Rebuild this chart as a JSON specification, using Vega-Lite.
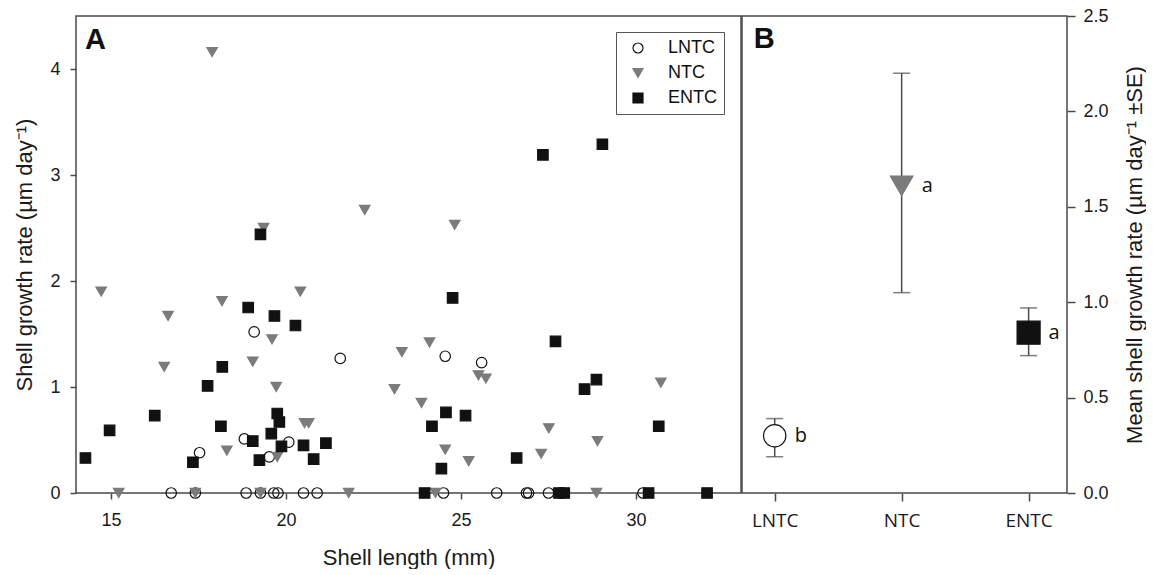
{
  "$schema": "https://vega.github.io/schema/vega-lite/v6.json",
  "background": "white",
  "padding": {"left": 13, "top": 6, "right": 0, "bottom": 0},
  "spacing": -1,
  "config": {
    "view": {"stroke": "#4a4a4a", "strokeWidth": 1.5},
    "axis": {"grid": false, "domain": false, "tickColor": "#4a4a4a", "tickWidth": 1.5, "labelFont": "Liberation Sans", "labelFontSize": 18, "labelColor": "#1a1a1a", "titleFont": "Liberation Sans", "titleFontSize": 22, "titleFontWeight": "normal", "titleColor": "#1a1a1a"},
    "legend": {"padding": 7, "strokeColor": "#555555", "fillColor": "white", "symbolOffset": 6, "labelOffset": 21, "rowPadding": 7, "labelFont": "Liberation Sans", "labelFontSize": 18, "labelColor": "#111111", "symbolSize": 100, "symbolStrokeWidth": 1.2}
  },
  "resolve": {"scale": {"shape": "independent", "fill": "independent", "stroke": "independent", "size": "independent"}, "legend": {"shape": "independent", "fill": "independent", "stroke": "independent", "size": "independent"}},
  "hconcat": [
    {
      "width": 665,
      "height": 477,
      "layer": [
        {
          "data": {"values": [
            {"group": "LNTC", "length": 17.53, "rate": 0.38},
            {"group": "LNTC", "length": 19.09, "rate": 1.52},
            {"group": "LNTC", "length": 18.81, "rate": 0.51},
            {"group": "LNTC", "length": 19.52, "rate": 0.34},
            {"group": "LNTC", "length": 20.08, "rate": 0.48},
            {"group": "LNTC", "length": 21.55, "rate": 1.27},
            {"group": "LNTC", "length": 24.55, "rate": 1.29},
            {"group": "LNTC", "length": 25.59, "rate": 1.23},
            {"group": "LNTC", "length": 16.72, "rate": 0},
            {"group": "LNTC", "length": 17.41, "rate": 0},
            {"group": "LNTC", "length": 18.86, "rate": 0},
            {"group": "LNTC", "length": 19.27, "rate": 0},
            {"group": "LNTC", "length": 19.65, "rate": 0},
            {"group": "LNTC", "length": 19.77, "rate": 0},
            {"group": "LNTC", "length": 20.5, "rate": 0},
            {"group": "LNTC", "length": 20.89, "rate": 0},
            {"group": "LNTC", "length": 24.5, "rate": 0},
            {"group": "LNTC", "length": 26.02, "rate": 0},
            {"group": "LNTC", "length": 26.87, "rate": 0},
            {"group": "LNTC", "length": 26.93, "rate": 0},
            {"group": "LNTC", "length": 27.5, "rate": 0},
            {"group": "LNTC", "length": 30.2, "rate": 0},
            {"group": "NTC", "length": 14.72, "rate": 1.9},
            {"group": "NTC", "length": 16.63, "rate": 1.67},
            {"group": "NTC", "length": 18.17, "rate": 1.81},
            {"group": "NTC", "length": 16.52, "rate": 1.19},
            {"group": "NTC", "length": 19.6, "rate": 1.45},
            {"group": "NTC", "length": 19.05, "rate": 1.24},
            {"group": "NTC", "length": 19.72, "rate": 1.0},
            {"group": "NTC", "length": 20.41, "rate": 1.9},
            {"group": "NTC", "length": 20.53, "rate": 0.66},
            {"group": "NTC", "length": 20.65, "rate": 0.66},
            {"group": "NTC", "length": 18.31, "rate": 0.4},
            {"group": "NTC", "length": 19.75, "rate": 0.34},
            {"group": "NTC", "length": 17.89, "rate": 4.16},
            {"group": "NTC", "length": 19.36, "rate": 2.5},
            {"group": "NTC", "length": 23.31, "rate": 1.33},
            {"group": "NTC", "length": 24.1, "rate": 1.42},
            {"group": "NTC", "length": 23.1, "rate": 0.98},
            {"group": "NTC", "length": 23.87, "rate": 0.85},
            {"group": "NTC", "length": 25.5, "rate": 1.11},
            {"group": "NTC", "length": 25.71, "rate": 1.08},
            {"group": "NTC", "length": 24.55, "rate": 0.41},
            {"group": "NTC", "length": 25.22, "rate": 0.3},
            {"group": "NTC", "length": 27.51, "rate": 0.61},
            {"group": "NTC", "length": 27.29, "rate": 0.37},
            {"group": "NTC", "length": 28.9, "rate": 0.49},
            {"group": "NTC", "length": 30.71, "rate": 1.04},
            {"group": "NTC", "length": 22.25, "rate": 2.67},
            {"group": "NTC", "length": 24.82, "rate": 2.53},
            {"group": "NTC", "length": 15.22, "rate": 0},
            {"group": "NTC", "length": 17.41, "rate": 0},
            {"group": "NTC", "length": 19.27, "rate": 0},
            {"group": "NTC", "length": 21.79, "rate": 0},
            {"group": "NTC", "length": 24.27, "rate": 0},
            {"group": "NTC", "length": 28.87, "rate": 0},
            {"group": "ENTC", "length": 14.27, "rate": 0.33},
            {"group": "ENTC", "length": 14.96, "rate": 0.59},
            {"group": "ENTC", "length": 16.25, "rate": 0.73},
            {"group": "ENTC", "length": 17.34, "rate": 0.29},
            {"group": "ENTC", "length": 17.76, "rate": 1.01},
            {"group": "ENTC", "length": 18.18, "rate": 1.19},
            {"group": "ENTC", "length": 18.14, "rate": 0.63},
            {"group": "ENTC", "length": 18.92, "rate": 1.75},
            {"group": "ENTC", "length": 19.67, "rate": 1.67},
            {"group": "ENTC", "length": 20.27, "rate": 1.58},
            {"group": "ENTC", "length": 19.05, "rate": 0.49},
            {"group": "ENTC", "length": 19.24, "rate": 0.31},
            {"group": "ENTC", "length": 19.58, "rate": 0.56},
            {"group": "ENTC", "length": 19.75, "rate": 0.75},
            {"group": "ENTC", "length": 19.81, "rate": 0.67},
            {"group": "ENTC", "length": 19.87, "rate": 0.44},
            {"group": "ENTC", "length": 20.5, "rate": 0.45},
            {"group": "ENTC", "length": 20.79, "rate": 0.32},
            {"group": "ENTC", "length": 21.14, "rate": 0.47},
            {"group": "ENTC", "length": 19.27, "rate": 2.44},
            {"group": "ENTC", "length": 24.76, "rate": 1.84},
            {"group": "ENTC", "length": 27.7, "rate": 1.43},
            {"group": "ENTC", "length": 28.53, "rate": 0.98},
            {"group": "ENTC", "length": 28.87, "rate": 1.07},
            {"group": "ENTC", "length": 24.57, "rate": 0.76},
            {"group": "ENTC", "length": 25.13, "rate": 0.73},
            {"group": "ENTC", "length": 24.17, "rate": 0.63},
            {"group": "ENTC", "length": 24.44, "rate": 0.23},
            {"group": "ENTC", "length": 26.59, "rate": 0.33},
            {"group": "ENTC", "length": 30.65, "rate": 0.63},
            {"group": "ENTC", "length": 27.34, "rate": 3.19},
            {"group": "ENTC", "length": 29.04, "rate": 3.29},
            {"group": "ENTC", "length": 23.96, "rate": 0},
            {"group": "ENTC", "length": 27.8, "rate": 0},
            {"group": "ENTC", "length": 27.95, "rate": 0},
            {"group": "ENTC", "length": 30.36, "rate": 0},
            {"group": "ENTC", "length": 32.03, "rate": 0}
          ]},
          "mark": {"type": "point", "filled": true, "opacity": 1, "size": 110, "strokeWidth": 1.2},
          "encoding": {
            "x": {"field": "length", "type": "quantitative", "scale": {"domain": [14, 33], "nice": false, "zero": false}, "axis": {"title": "Shell length (mm)", "values": [15, 20, 25, 30], "format": "d", "tickSize": 6, "labelPadding": 12, "titlePadding": 18}},
            "y": {"field": "rate", "type": "quantitative", "scale": {"domain": [0, 4.5], "nice": false}, "axis": {"title": "Shell growth rate (µm day⁻¹)", "values": [0, 1, 2, 3, 4], "format": "d", "tickSize": 6, "labelPadding": 10, "titlePadding": 13}},
            "shape": {"field": "group", "type": "nominal", "scale": {"domain": ["LNTC", "NTC", "ENTC"], "range": ["circle", "triangle-down", "square"]}, "legend": {"title": null, "orient": "none", "legendX": 540, "legendY": 16}},
            "fill": {"field": "group", "type": "nominal", "scale": {"domain": ["LNTC", "NTC", "ENTC"], "range": ["transparent", "#7b7b7b", "#111111"]}, "legend": {"title": null, "orient": "none", "legendX": 540, "legendY": 16}},
            "stroke": {"field": "group", "type": "nominal", "scale": {"domain": ["LNTC", "NTC", "ENTC"], "range": ["#111111", "#7b7b7b", "#111111"]}, "legend": {"title": null, "orient": "none", "legendX": 540, "legendY": 16}}
          }
        },
        {
          "data": {"values": [{"label": "A"}]},
          "mark": {"type": "text", "align": "left", "baseline": "alphabetic", "font": "Liberation Sans", "fontSize": 29, "fontWeight": "bold", "color": "#111111"},
          "encoding": {
            "x": {"datum": 14.26},
            "y": {"datum": 4.19},
            "text": {"field": "label"}
          }
        }
      ]
    },
    {
      "width": 325,
      "height": 477,
      "data": {"values": [
        {"group": "LNTC", "mean": 0.30, "lower": 0.19, "upper": 0.39, "sig": "b"},
        {"group": "NTC", "mean": 1.61, "lower": 1.05, "upper": 2.20, "sig": "a"},
        {"group": "ENTC", "mean": 0.84, "lower": 0.72, "upper": 0.97, "sig": "a"}
      ]},
      "layer": [
        {
          "mark": {"type": "rule", "color": "#4a4a4a", "strokeWidth": 1.5},
          "encoding": {
            "x": {"field": "group", "type": "nominal", "sort": null, "scale": {"type": "point", "domain": ["LNTC", "NTC", "ENTC"], "padding": 0.28, "align": 0.46}, "axis": {"title": null, "labelAngle": 0, "labelFont": "Open Sans", "labelFontSize": 19, "tickSize": 8, "labelPadding": 10}},
            "y": {"field": "lower", "type": "quantitative", "title": "Mean shell growth rate (µm day⁻¹ ±SE)", "scale": {"domain": [0, 2.5], "nice": false}, "axis": {"orient": "right", "values": [0, 0.5, 1, 1.5, 2, 2.5], "format": ".1f", "tickSize": 8, "labelPadding": 8, "titlePadding": 16, "titleAngle": 270, "titleBaseline": "top"}},
            "y2": {"field": "upper"}
          }
        },
        {
          "mark": {"type": "tick", "color": "#4a4a4a", "size": 17, "thickness": 1.5},
          "encoding": {"x": {"field": "group", "type": "nominal"}, "y": {"field": "lower", "type": "quantitative", "title": "Mean shell growth rate (µm day⁻¹ ±SE)"}}
        },
        {
          "mark": {"type": "tick", "color": "#4a4a4a", "size": 17, "thickness": 1.5},
          "encoding": {"x": {"field": "group", "type": "nominal"}, "y": {"field": "upper", "type": "quantitative", "title": "Mean shell growth rate (µm day⁻¹ ±SE)"}}
        },
        {
          "mark": {"type": "point", "filled": true, "opacity": 1, "strokeWidth": 1.2},
          "encoding": {
            "x": {"field": "group", "type": "nominal"},
            "y": {"field": "mean", "type": "quantitative", "title": "Mean shell growth rate (µm day⁻¹ ±SE)"},
            "shape": {"field": "group", "type": "nominal", "scale": {"domain": ["LNTC", "NTC", "ENTC"], "range": ["circle", "triangle-down", "square"]}, "legend": null},
            "fill": {"field": "group", "type": "nominal", "scale": {"domain": ["LNTC", "NTC", "ENTC"], "range": ["white", "#7b7b7b", "#111111"]}, "legend": null},
            "stroke": {"field": "group", "type": "nominal", "scale": {"domain": ["LNTC", "NTC", "ENTC"], "range": ["#111111", "#7b7b7b", "#111111"]}, "legend": null},
            "size": {"field": "group", "type": "nominal", "scale": {"domain": ["LNTC", "NTC", "ENTC"], "range": [500, 530, 400]}, "legend": null}
          }
        },
        {
          "mark": {"type": "text", "align": "left", "baseline": "middle", "dx": 20, "font": "Open Sans", "fontSize": 20, "color": "#111111"},
          "encoding": {
            "x": {"field": "group", "type": "nominal"},
            "y": {"field": "mean", "type": "quantitative", "title": "Mean shell growth rate (µm day⁻¹ ±SE)"},
            "text": {"field": "sig"}
          }
        },
        {
          "data": {"values": [{"label": "B"}]},
          "mark": {"type": "text", "align": "left", "baseline": "alphabetic", "dx": -21, "font": "Liberation Sans", "fontSize": 29, "fontWeight": "bold", "color": "#111111"},
          "encoding": {
            "x": {"datum": "LNTC"},
            "y": {"datum": 2.33},
            "text": {"field": "label"}
          }
        }
      ]
    }
  ]
}
